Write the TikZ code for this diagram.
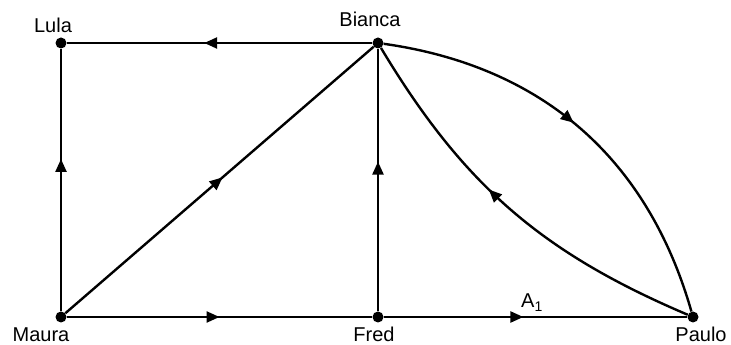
\documentclass[tikz,border=0pt]{standalone}
\usepackage{fontspec}
\setsansfont{Liberation Sans}
\usetikzlibrary{positioning,arrows.meta,decorations.markings}

\begin{document}
\begin{tikzpicture}[
    x=1pt, y=1pt,
    font=\sffamily\fontsize{20}{22}\selectfont,
    dot/.style={circle, fill=black, inner sep=0pt, minimum size=11pt},
    lbl/.style={inner sep=0pt, anchor=base},
    edge/.style={line width=2.4pt, black},
    midarrow/.style={postaction={decorate}, decoration={markings,
        mark=at position #1 with {\arrow{Triangle[length=13pt, width=11pt]}}}},
    midarrow/.default=0.5
]
\useasboundingbox (0,0) rectangle (731,345);

% vertices
\node[dot] (lula)   at (61,302)  {};
\node[dot] (bianca) at (378,302) {};
\node[dot] (maura)  at (61,28)   {};
\node[dot] (fred)   at (378,28)  {};
\node[dot] (paulo)  at (693,28)  {};

% names
\node[lbl] (lulatxt)   at (53,312)  {Lula};
\node[lbl] (biancatxt) at (370,318) {Bianca};
\node[lbl] (mauratxt)  at (41,3)    {Maura};
\node[lbl] (fredtxt)   at (374,3)   {Fred};
\node[lbl] (paulotxt)  at (701,3)   {Paulo};

% edges
\draw[edge, midarrow=0.55] (bianca) -- (lula);
\draw[edge, midarrow=0.58] (maura) -- (lula);
\draw[edge, midarrow=0.51] (maura) -- (bianca);
\draw[edge, midarrow=0.57] (fred) -- (bianca);
\draw[edge, midarrow] (maura) -- (fred);
\draw[edge, midarrow=0.46] (fred) -- (paulo);
\draw[edge, midarrow=0.48] (bianca) to[bend left=33] (paulo);
\draw[edge, midarrow=0.57] (paulo) to[bend left=18] (bianca);

\node[lbl] (aone) at (532,37) {A\textsubscript{1}};

\end{tikzpicture}
\end{document}
